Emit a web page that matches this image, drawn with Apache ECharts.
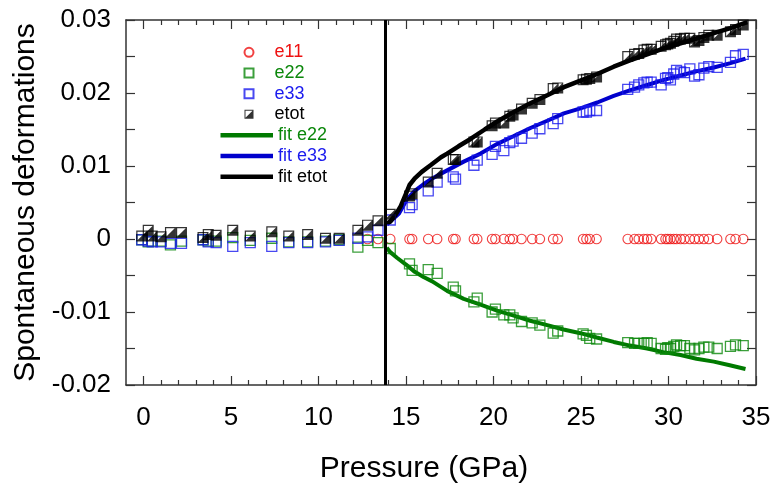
<!DOCTYPE html>
<html>
<head>
<meta charset="utf-8">
<script src="https://cdn.jsdelivr.net/npm/echarts@6/dist/echarts.min.js"></script>
<style>
html,body{margin:0;padding:0;background:#fff;}
#chart{width:774px;height:493px;}
</style>
</head>
<body>
<div id="chart"></div>
<script>
// ---------- data ----------
const pressure = [
  -0.1, 0.27, 0.5, 1.0, 1.54, 2.17, 3.4, 3.7, 4.15, 5.1, 6.1, 7.33, 8.3, 9.38, 10.4, 11.18, 12.25,
  12.8, 13.4, 14.1, 15.2, 15.35, 16.27, 16.78, 17.7, 17.83, 18.88, 19.07, 19.92, 20.11, 20.59, 20.93,
  21.12, 21.6, 22.21, 22.65, 23.41, 23.67, 25.12, 25.31, 25.5, 25.89, 27.67, 28.06, 28.3, 28.59, 28.78,
  29.01, 29.58, 29.83, 29.96, 30.11, 30.3, 30.46, 30.69, 30.91, 31.22, 31.49, 31.74, 32.02, 32.3, 32.78,
  33.54, 33.83, 34.27
];
const e11 = [
  null, null, null, null, null, null, null, null, null, null, null, null, null, null, null, null, null,
  0, 0, 0, 0, 0, 0, 0, 0, 0, 0, 0, 0, 0, 0, 0,
  0, 0, 0, 0, 0, 0, 0, 0, 0, 0, 0, 0, 0, 0, 0,
  0, 0, 0, 0, 0, 0, 0, 0, 0, 0, 0, 0, 0, 0, 0,
  0, 0, 0
];
const e22 = [
  -0.0001, -0.0004, -0.0003, -0.0003, -0.0008, -0.0003, -0.0001, -0.0003, -0.0003, 0.0002, -0.0002, 0.0001, -0.0004, -0.0004, -0.0003, -0.0001, -0.0011,
  -0.0002, -0.0005, -0.0013, -0.0034, -0.0043, -0.0042, -0.0047, -0.0066, -0.0071, -0.0086, -0.0081, -0.0100, -0.0096, -0.0104, -0.0104,
  -0.0108, -0.0113, -0.0115, -0.0118, -0.0129, -0.0126, -0.0130, -0.0132, -0.0136, -0.0137, -0.0142, -0.0143, -0.0143, -0.0143, -0.0142,
  -0.0143, -0.0150, -0.0151, -0.0149, -0.0150, -0.0147, -0.0145, -0.0146, -0.0146, -0.0150, -0.0152, -0.0150, -0.0148, -0.0148, -0.0150,
  -0.0147, -0.0145, -0.0146
];
const e33 = [
  -0.0001, -0.0003, -0.0004, -0.0004, -0.0006, -0.0006, -0.0001, -0.0004, -0.0005, -0.0010, -0.0005, -0.0010, -0.0005, -0.0005, -0.0004, -0.0002, 0.0001,
  0.0003, 0.0012, 0.0026, 0.0043, 0.0047, 0.0066, 0.0078, 0.0085, 0.0082, 0.0101, 0.0108, 0.0116, 0.0127, 0.0121, 0.0132,
  0.0134, 0.0138, 0.0145, 0.0151, 0.0158, 0.0165, 0.0174, 0.0174, 0.0176, 0.0176, 0.0205, 0.0208, 0.0211, 0.0214, 0.0215,
  0.0215, 0.0211, 0.0220, 0.0221, 0.0218, 0.0226, 0.0231, 0.0229, 0.0228, 0.0233, 0.0223, 0.0225, 0.0234, 0.0236, 0.0235,
  0.0242, 0.0251, 0.0253
];
const etot = [
  0.0004, 0.0012, 0.0004, 0.0003, 0.0009, 0.0009, 0.0002, 0.0006, 0.0005, 0.0012, 0.0004, 0.0010, 0.0004, 0.0006, 0.0001, 0.0001, 0.0012,
  0.0019, 0.0025, 0.0034, 0.0059, 0.0062, 0.0078, 0.0090, 0.0109, 0.0109, 0.0133, 0.0133, 0.0155, 0.0159, 0.0159, 0.0168,
  0.0170, 0.0178, 0.0186, 0.0191, 0.0206, 0.0207, 0.0218, 0.0219, 0.0220, 0.0222, 0.0250, 0.0253, 0.0254, 0.0259, 0.0260,
  0.0260, 0.0264, 0.0266, 0.0267, 0.0268, 0.0271, 0.0274, 0.0274, 0.0275, 0.0275, 0.0270, 0.0272, 0.0276, 0.0279, 0.0279,
  0.0284, 0.0287, 0.0293
];

const fitE22Pressure = [13.9, 14.1, 14.5, 15.0, 15.5, 16.0, 16.5, 17.35, 18.3, 19.26, 20.2, 21.16, 22.1, 23.07, 24.0, 24.97, 25.9, 26.87, 27.8, 28.78, 29.7, 30.69, 31.6, 32.59, 33.5, 34.4];
const fitE22 = [-0.0012, -0.0018, -0.0026, -0.0035, -0.0045, -0.0052, -0.0058, -0.0071, -0.0082, -0.0090, -0.0098, -0.0105, -0.0112, -0.0118, -0.0124, -0.0129, -0.0135, -0.0141, -0.0146, -0.0150, -0.0155, -0.0159, -0.0164, -0.0168, -0.0173, -0.0178];

const fitE33Pressure = [13.9, 14.1, 14.6, 15.07, 15.5, 16.0, 16.5, 17.35, 18.3, 19.26, 20.2, 21.16, 22.11, 23.07, 24.02, 24.97, 25.93, 26.87, 27.83, 28.78, 29.73, 30.69, 31.64, 32.59, 33.54, 34.4];
const fitE33 = [0.0020, 0.0024, 0.0035, 0.0055, 0.0066, 0.0075, 0.0083, 0.0094, 0.0106, 0.0117, 0.0130, 0.0141, 0.0152, 0.0162, 0.0172, 0.0179, 0.0187, 0.0196, 0.0204, 0.0211, 0.0218, 0.0224, 0.0230, 0.0235, 0.0241, 0.0247];

const fitEtotPressure = [13.9, 14.1, 14.4, 14.7, 15.0, 15.2, 15.5, 15.9, 16.4, 17.0, 17.35, 18.0, 18.69, 19.5, 20.21, 21.16, 22.11, 23.07, 24.02, 24.97, 25.93, 26.87, 27.83, 28.78, 29.73, 30.69, 31.64, 32.59, 33.54, 34.5];
const fitEtot = [0.0021, 0.0024, 0.0033, 0.0045, 0.0062, 0.0074, 0.0083, 0.0092, 0.0101, 0.0112, 0.0117, 0.0127, 0.0137, 0.0150, 0.0161, 0.0174, 0.0186, 0.0197, 0.0208, 0.0217, 0.0226, 0.0236, 0.0245, 0.0253, 0.0261, 0.0268, 0.0275, 0.0282, 0.0289, 0.0297];

const transitionPressure = 13.8;

const xMajorTicks = [0, 5, 10, 15, 20, 25, 30, 35];
const xMinorTicks = [1, 2, 3, 4, 6, 7, 8, 9, 11, 12, 13, 14, 16, 17, 18, 19, 21, 22, 23, 24, 26, 27, 28, 29, 31, 32, 33, 34];
const yTickLabels = [-0.02, -0.01, 0, 0.01, 0.02, 0.03];

const seriesNames = ['e11', 'e22', 'e33', 'etot', 'fit e22', 'fit e33', 'fit etot'];

// ---------- styling ----------
const FONT = 'Liberation Sans, Arial, sans-serif';
const AX = '#333';
const RED = '#ee1111', GREEN = '#0a870a', BLUE = '#1a1aee', BLACK = '#000';
const FIT_GREEN = '#007a00', FIT_BLUE = '#0000cc';
const squarePath = 'path://M0,0L10,0L10,10L0,10Z';
const halfFilledPath = 'path://M0,0L20,0L20,20L0,20Z M2.2,2.2L2.2,17.8L17.8,17.8L17.8,2.2Z M17.8,2.2L17.8,17.8L2.2,17.8Z';
const LEG_FONT = 18;

function zip(xs, ys) { const out = []; for (let i = 0; i < xs.length; i++) { if (ys[i] !== null) out.push([xs[i], ys[i]]); } return out; }

function xAxisDef(pos, ticks, len, mode) {
  const a = {
    type: 'value', min: -1, max: 35, position: pos,
    axisLine: { show: mode !== null, onZero: false, lineStyle: { color: AX, width: 1.5 } },
    axisTick: { show: true, inside: true, length: len, customValues: ticks, lineStyle: { color: AX, width: 1.2 } },
    axisLabel: { show: false },
    splitLine: { show: false }
  };
  if (mode === true) {
    a.axisLabel = { show: true, customValues: xMajorTicks, fontSize: 26, color: '#000', margin: 20, fontFamily: FONT };
    a.name = 'Pressure (GPa)';
    a.nameLocation = 'middle';
    a.nameGap = 69;
    a.nameTextStyle = { fontSize: 30, color: '#000', fontFamily: FONT, padding: [0, 34, 0, 0] };
  }
  return a;
}
function yAxisDef(pos, withLabel) {
  const a = {
    type: 'value', min: -0.02, max: 0.03, interval: 0.005, position: pos,
    axisLine: { show: true, onZero: false, lineStyle: { color: AX, width: 1.5 } },
    axisTick: { show: true, inside: true, length: 9, lineStyle: { color: AX, width: 1.2 } },
    axisLabel: { show: false },
    splitLine: { show: false }
  };
  if (withLabel) {
    a.axisLabel = {
      show: true, customValues: yTickLabels, fontSize: 26, color: '#000', margin: 15, fontFamily: FONT,
      formatter: v => String(parseFloat(Number(v).toFixed(4)))
    };
    a.name = 'Spontaneous deformations';
    a.nameLocation = 'middle';
    a.nameGap = 82;
    a.nameTextStyle = { fontSize: 30, color: '#000', fontFamily: FONT };
  }
  return a;
}
function legText(color) { return { color: color, fontSize: LEG_FONT, fontFamily: FONT, lineHeight: 20.67, padding: [0, 0, 0, 16] }; }
function legText2(color) { return { color: color, fontSize: LEG_FONT, fontFamily: FONT, lineHeight: 20.67 }; }

const chart = echarts.init(document.getElementById('chart'), null, { renderer: 'canvas' });
const option = {
  animation: false,
  backgroundColor: '#fff',
  textStyle: { fontFamily: FONT },
  grid: { left: 126, right: 18, top: 20, bottom: 108, containLabel: false },
  xAxis: [
    xAxisDef('bottom', xMajorTicks, 9, true),
    xAxisDef('bottom', xMinorTicks, 5, null),
    xAxisDef('top', xMajorTicks, 9, false),
    xAxisDef('top', xMinorTicks, 5, null)
  ],
  yAxis: [yAxisDef('left', true), yAxisDef('right', false)],
  legend: [
    {
      orient: 'vertical', left: 243.5, top: 42, padding: 0, itemWidth: 9, itemHeight: 9, itemGap: 0,
      selectedMode: false,
      textStyle: legText2('#000'),
      data: [
        { name: seriesNames[0], icon: 'circle', textStyle: legText(RED) },
        { name: seriesNames[1], icon: squarePath, textStyle: legText(GREEN) },
        { name: seriesNames[2], icon: squarePath, textStyle: legText(BLUE) },
        { name: seriesNames[3], icon: halfFilledPath, textStyle: legText(BLACK) }
      ]
    },
    {
      orient: 'vertical', left: 220.5, top: 125, padding: 0, itemWidth: 52.5, itemHeight: 4.5, itemGap: 0,
      selectedMode: false,
      textStyle: legText2('#000'),
      data: [
        { name: seriesNames[4], icon: 'rect', itemStyle: { color: FIT_GREEN }, textStyle: legText2(GREEN) },
        { name: seriesNames[5], icon: 'rect', itemStyle: { color: FIT_BLUE }, textStyle: legText2(BLUE) },
        { name: seriesNames[6], icon: 'rect', itemStyle: { color: BLACK }, textStyle: legText2(BLACK) }
      ]
    }
  ],
  series: [
    {
      name: seriesNames[4], type: 'line', data: zip(fitE22Pressure, fitE22), symbol: 'none', z: 2,
      lineStyle: { color: FIT_GREEN, width: 4 }, itemStyle: { color: FIT_GREEN }
    },
    {
      name: seriesNames[5], type: 'line', data: zip(fitE33Pressure, fitE33), symbol: 'none', z: 2,
      lineStyle: { color: FIT_BLUE, width: 4 }, itemStyle: { color: FIT_BLUE }
    },
    {
      name: seriesNames[6], type: 'line', data: zip(fitEtotPressure, fitEtot), symbol: 'none', z: 2,
      lineStyle: { color: BLACK, width: 4.5 }, itemStyle: { color: BLACK }
    },
    {
      name: seriesNames[0], type: 'scatter', data: zip(pressure, e11), symbol: 'circle', symbolSize: 9.5, z: 3,
      itemStyle: { color: 'rgba(0,0,0,0)', borderColor: RED, borderWidth: 1.1 },
      markLine: {
        silent: true, symbol: 'none', label: { show: false },
        lineStyle: { color: '#000', width: 3, type: 'solid' },
        data: [{ xAxis: transitionPressure }]
      }
    },
    {
      name: seriesNames[1], type: 'scatter', data: zip(pressure, e22), symbol: 'rect', symbolSize: 10, z: 3,
      itemStyle: { color: 'rgba(0,0,0,0)', borderColor: GREEN, borderWidth: 1.3 }
    },
    {
      name: seriesNames[2], type: 'scatter', data: zip(pressure, e33), symbol: 'rect', symbolSize: 10, z: 3,
      itemStyle: { color: 'rgba(0,0,0,0)', borderColor: BLUE, borderWidth: 1.3 }
    },
    {
      name: seriesNames[3], type: 'scatter', data: zip(pressure, etot), symbol: halfFilledPath, symbolSize: 11, z: 4,
      itemStyle: { color: BLACK }
    }
  ]
};
chart.setOption(option);
</script>
</body>
</html>
